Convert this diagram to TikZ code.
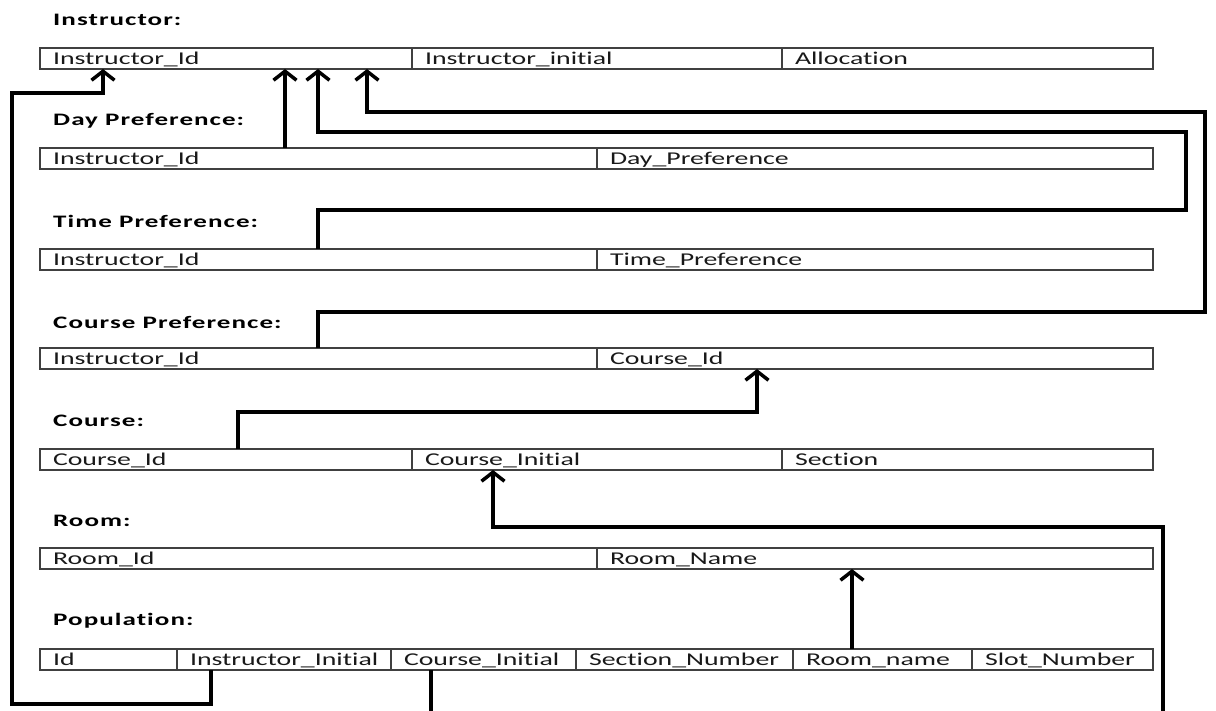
\documentclass[tikz,border=0pt]{standalone}
\usepackage{fontspec}
\setmainfont[FakeStretch=1.545,Ligatures=NoCommon]{Carlito}
\usetikzlibrary{positioning,arrows.meta}
\definecolor{tableline}{RGB}{64,64,64}
\definecolor{celltext}{RGB}{25,25,25}
\hyphenpenalty=10000
\exhyphenpenalty=10000

\tikzset{
  cell/.style={draw=tableline, line width=1.3pt, outer sep=0pt, inner xsep=13pt, inner ysep=0pt,
    minimum height=21pt, text height=15pt, text depth=3pt, align=left,
    font=\fontsize{18}{20}\selectfont, text=celltext},
  first/.style={cell, anchor=north west},
  heading/.style={anchor=west, inner sep=0pt,
    font=\fontsize{17.5}{19}\selectfont\bfseries\addfontfeature{LetterSpace=6}},
  link/.style={line width=3.5pt, -{Straight Barb[length=9pt,width=23pt]}}
}

\begin{document}
\begin{tikzpicture}[x=1pt,y=-1pt]
\useasboundingbox (0,0) rectangle (1216,711);

\node [heading] (t-ins) at (53,20) {Instructor:};
\node [first, text width=346pt] (ins-id) at (40,48) {Instructor\_Id};
\node [cell, text width=344pt, right=0pt of ins-id] (ins-init) {Instructor\_initial};
\node [cell, text width=345pt, right=0pt of ins-init] (ins-alloc) {Allocation};

\node [heading] (t-day) at (53,121) {Day Preference:};
\node [first, text width=531pt] (day-id) at (40,148) {Instructor\_Id};
\node [cell, text width=530pt, right=0pt of day-id] (day-pref) {Day\_Preference};

\node [heading] (t-time) at (53,221) {Time Preference:};
\node [first, text width=531pt] (time-id) at (40,249) {Instructor\_Id};
\node [cell, text width=530pt, right=0pt of time-id] (time-pref) {Time\_Preference};

\node [heading] (t-cpref) at (53,322) {Course Preference:};
\node [first, text width=531pt] (cpref-id) at (40,348) {Instructor\_Id};
\node [cell, text width=530pt, right=0pt of cpref-id] (cpref-cid) {Course\_Id};

\node [heading] (t-course) at (53,421) {Course:};
\node [first, text width=346pt] (course-id) at (40,449) {Course\_Id};
\node [cell, text width=344pt, right=0pt of course-id] (course-ci) {Course\_Initial};
\node [cell, text width=345pt, right=0pt of course-ci] (course-sec) {Section};

\node [heading] (t-room) at (53,521) {Room:};
\node [first, text width=531pt] (room-id) at (40,548) {Room\_Id};
\node [cell, text width=530pt, right=0pt of room-id] (room-name) {Room\_Name};

\node [heading] (t-pop) at (53,621) {Population:};
\node [first, text width=111pt] (pop-id) at (40,649) {Id};
\node [cell, text width=188pt, right=0pt of pop-id] (pop-init) {Instructor\_Initial};
\node [cell, text width=159pt, right=0pt of pop-init] (pop-ci) {Course\_Initial};
\node [cell, text width=191pt, right=0pt of pop-ci] (pop-sec) {Section\_Number};
\node [cell, text width=153pt, right=0pt of pop-sec] (pop-rn) {Room\_name};
\node [cell, text width=155pt, right=0pt of pop-rn] (pop-slot) {Slot\_Number};

\draw [link] ([xshift=34pt]pop-init.south west) -- ++(0,34) -| (12,93) -| ([xshift=63pt]ins-id.south west);
\draw [link] ([xshift=245pt]day-id.north west) -- ([xshift=245pt]ins-id.south west);
\draw [link] ([xshift=278pt]time-id.north west) -- ++(0,-39) -| (1186,132) -| ([xshift=278pt]ins-id.south west);
\draw [link] ([xshift=278pt]cpref-id.north west) -- ++(0,-36) -| (1205,112) -| ([xshift=327pt]ins-id.south west);
\draw [link] ([xshift=198pt]course-id.north west) -- ++(0,-37) -| ([xshift=160pt]cpref-cid.south west);
\draw [link] ([xshift=40pt]pop-ci.south west) -- ++(0,70) -| (1163,527) -| ([xshift=81pt]course-ci.south west);
\draw [link] ([xshift=59pt]pop-rn.north west) -- ([xshift=255pt]room-name.south west);
\end{tikzpicture}
\end{document}
